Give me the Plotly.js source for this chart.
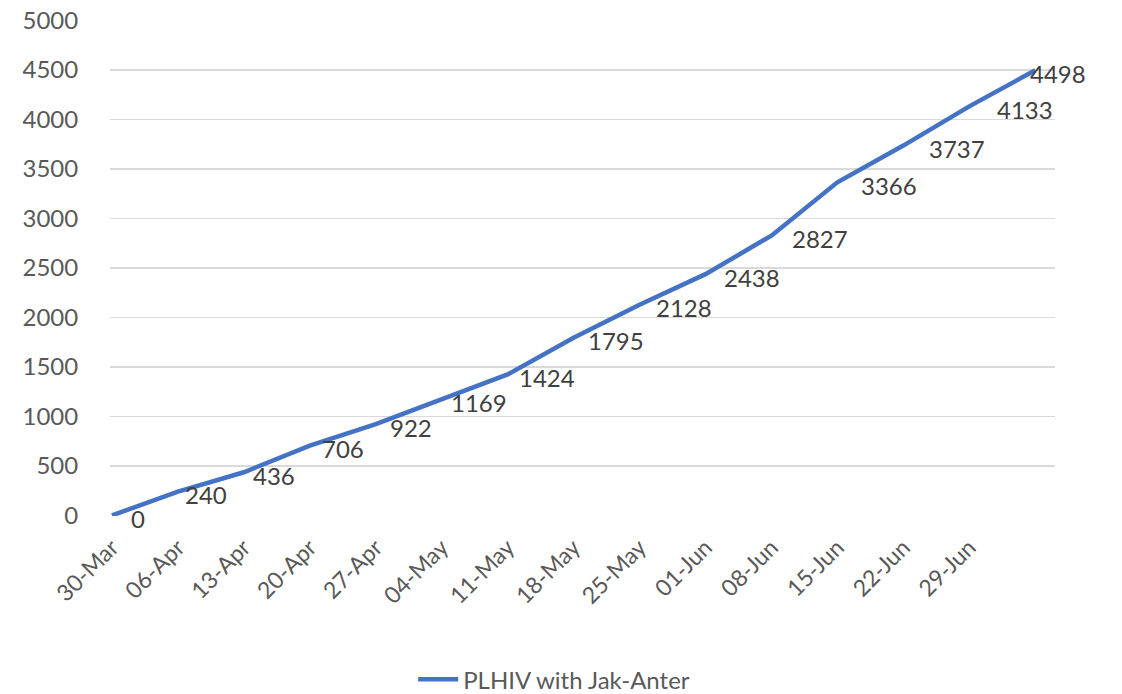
<!DOCTYPE html>
<html>
<head>
<meta charset="utf-8">
<script src="https://cdn.plot.ly/plotly-3.0.1.min.js"></script>
<style>html,body{margin:0;padding:0;background:#fff;}#chart{width:1122px;height:694px;}</style>
</head>
<body>
<div id="chart"></div>
<script>
const seriesName = "PLHIV with Jak-Anter";
const values = [0, 240, 436, 706, 922, 1169, 1424, 1795, 2128, 2438, 2827, 3366, 3737, 4133, 4498];
const tickLabels = ["30-Mar", "06-Apr", "13-Apr", "20-Apr", "27-Apr", "04-May", "11-May", "18-May", "25-May", "01-Jun", "08-Jun", "15-Jun", "22-Jun", "29-Jun"];
const yTicks = [0, 500, 1000, 1500, 2000, 2500, 3000, 3500, 4000, 4500, 5000];

const xIdx = values.map((v, i) => i);
const FONT = "Lato, 'Open Sans', sans-serif";

const trace = {
  x: xIdx,
  y: values,
  type: "scatter",
  mode: "lines",
  name: seriesName,
  line: {color: "#4472C4", width: 4.5},
  hoverinfo: "x+y"
};

// data labels placed to the right of each point (last one pulled back inside the chart)
const annotations = values.map((v, i) => ({
  x: i,
  y: v,
  xref: "x",
  yref: "y",
  text: String(v),
  showarrow: false,
  xanchor: "center",
  yanchor: "middle",
  xshift: i === values.length - 1 ? 23 : 26 + 2.3 * i,
  yshift: -3,
  font: {family: FONT, size: 24, color: "#404040"}
}));

const layout = {
  width: 1122,
  height: 694,
  margin: {l: 110, r: 67, t: 20, b: 178, autoexpand: false},
  paper_bgcolor: "#ffffff",
  plot_bgcolor: "#ffffff",
  showlegend: true,
  annotations: annotations,
  legend: {
    orientation: "h",
    x: 0.47, xanchor: "center",
    y: -0.33, yanchor: "middle",
    font: {family: FONT, size: 24, color: "#595959"},
    itemwidth: 40
  },
  xaxis: {
    range: [-0.03, 14.3],
    tickmode: "array",
    tickvals: tickLabels.map((t, i) => i),
    ticktext: tickLabels,
    tickangle: -45,
    ticks: "outside",
    ticklen: 8,
    tickcolor: "rgba(0,0,0,0)",
    showgrid: false,
    zeroline: false,
    showline: false,
    automargin: false,
    tickfont: {family: FONT, size: 23, color: "#595959"},
    fixedrange: true
  },
  yaxis: {
    range: [-6, 5006],
    tickmode: "array",
    tickvals: yTicks,
    ticktext: yTicks.map(String),
    ticks: "outside",
    ticklen: 26,
    tickcolor: "rgba(0,0,0,0)",
    showgrid: true,
    gridcolor: "#d9d9d9",
    gridwidth: 1.5,
    zeroline: false,
    showline: false,
    automargin: false,
    tickfont: {family: FONT, size: 24, color: "#595959"},
    fixedrange: true
  }
};

Plotly.newPlot("chart", [trace], layout, {displayModeBar: false, staticPlot: true});
</script>
</body>
</html>
